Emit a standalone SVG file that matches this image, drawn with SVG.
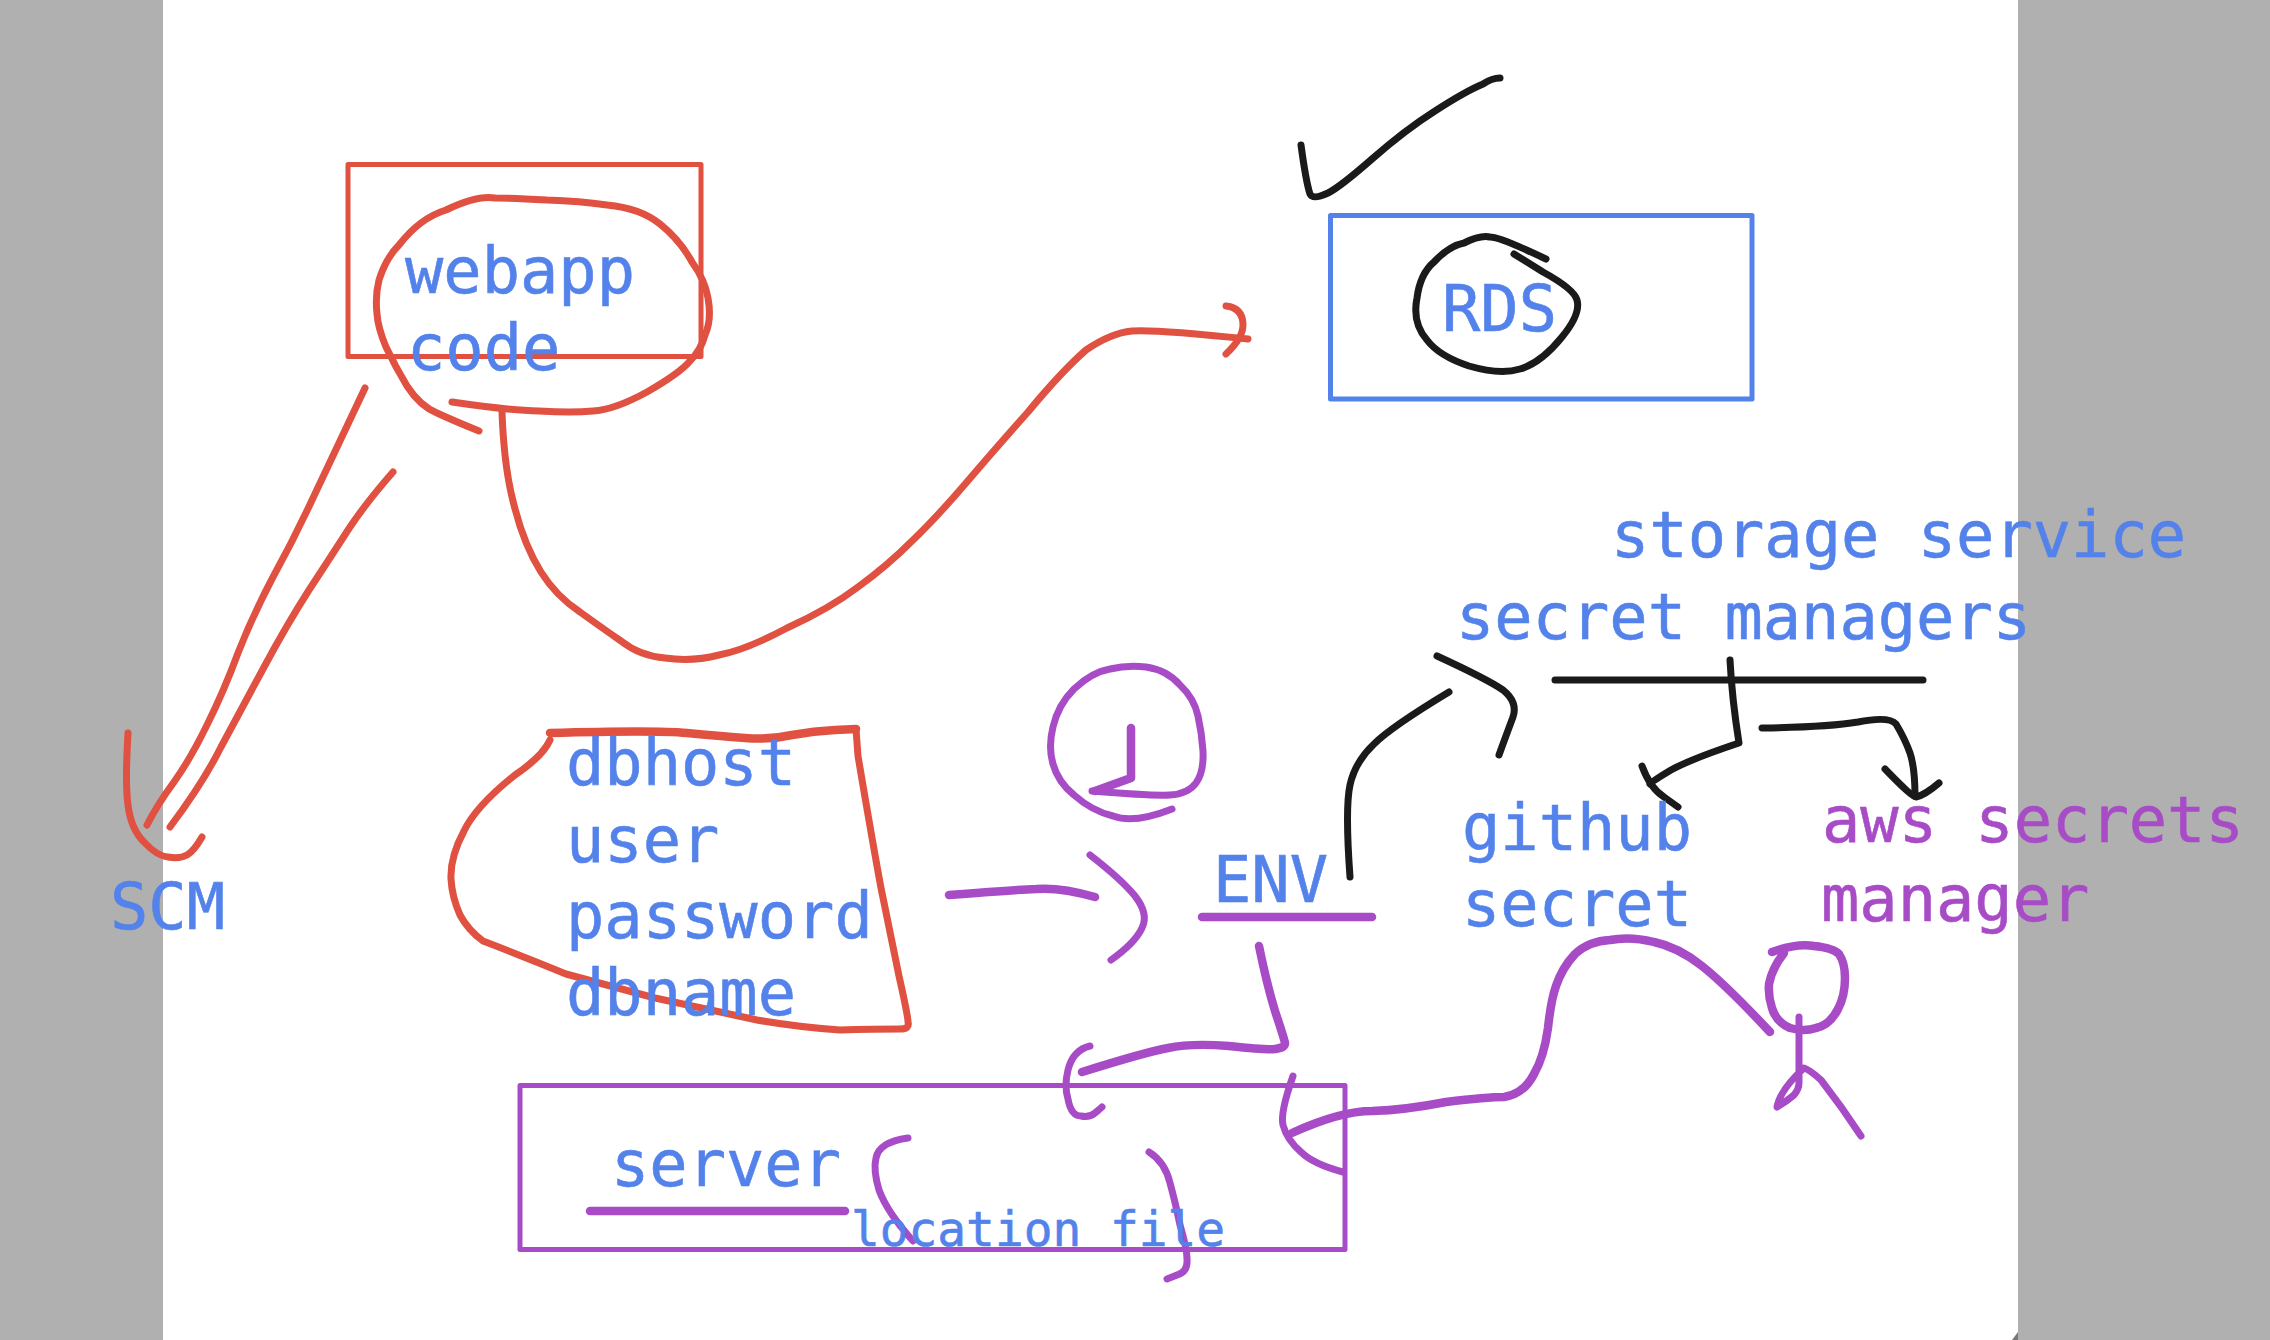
<svg xmlns="http://www.w3.org/2000/svg" width="2270" height="1340" viewBox="0 0 2270 1340">
<style>
.s{fill:none;stroke-linecap:round;stroke-linejoin:round;stroke-width:7}
.t{stroke-width:8.5}
.r{stroke:#e05141}.p{stroke:#a74cc6}.k{stroke:#1a1a1a}
.box{fill:none;stroke-width:5;stroke-linejoin:round}
text{font-family:"DejaVu Sans Mono","Liberation Mono",monospace;font-size:63.7px;fill:#5482eb;stroke:#5482eb;stroke-width:.6}
text.v{fill:#a74cc6;stroke:#a74cc6}
text.m{font-size:47.8px}
</style>
<rect width="2270" height="1340" fill="#fff"/>
<rect width="163" height="1340" fill="#b0b0b0"/>
<rect x="2018" width="252" height="1340" fill="#b0b0b0"/>
<polygon points="2018,1332 2018,1340 2012,1340" fill="#777"/>
<g id="connectors">
<path class="s r" d="M479 431Q452 420 437 413Q420 406 407 386Q395 366 386 347Q378 328 377 314Q375 296 379 280Q386 258 399 245Q420 218 446 210Q477 195 495 198Q514 198 547 200Q580 201 607 205Q640 208 660 224Q680 240 692 262Q705 280 708 298Q712 320 705 335Q701 350 690 361Q680 373 647 392Q614 410 593 411Q572 413 539 411Q506 410 452 402"/>
<path class="s r" d="M502 412Q504 468 514 505Q524 545 541 572Q556 596 580 612Q605 630 621 641Q640 656 665 658Q692 662 719 655Q746 650 787 628Q829 609 858 587Q887 566 912 541Q937 517 966 483Q995 449 1028 412Q1061 372 1086 350Q1111 333 1132 331Q1153 329 1248 339"/>
<path class="s r" d="M1226 306Q1243 308 1243 325Q1243 338 1226 354"/>
<path class="s r" d="M365 388Q332 458 313 498Q294 539 273 577Q253 615 238 653Q224 691 207 725Q191 758 174 782Q157 805 147 825"/>
<path class="s r" d="M393 472Q365 504 348 530Q332 555 309 590Q286 626 263 669Q240 712 221 747Q203 783 170 827"/>
<path class="s r" d="M128 733Q125 783 128 805Q131 830 145 843Q157 856 168 857Q180 859 187 855Q194 851 202 837"/>
<path class="s r t" d="M550 733Q655 730 687 733Q719 736 745 738Q770 740 792 735Q814 731 835 730L856 729"/>
<path class="s r" d="M856 729L858 756Q872 839 881 888Q891 936 899 976Q908 1016 908 1022Q910 1029 900 1029Q873 1029 840 1030Q798 1027 757 1020Q706 1009 655 998Q610 986 566 974Q525 957 483 941Q468 930 460 915Q452 897 451 879Q450 857 464 831Q476 806 515 775Q543 756 550 740"/>
<path class="s p" d="M1172 809Q1134 824 1113 816Q1092 811 1074 795Q1058 782 1053 764Q1048 747 1053 727Q1058 705 1074 689Q1092 672 1110 669Q1127 665 1146 667Q1167 670 1180 685Q1194 698 1198 716Q1202 734 1203 751Q1204 772 1196 783Q1188 794 1170 795Q1152 796 1092 791"/>
<path class="s p t" d="M1131 728L1131 778L1095 791"/>
<path class="s p t" d="M949 895Q1012 890 1036 889Q1060 887 1095 897"/>
<path class="s p" d="M1090 855Q1121 879 1135 896Q1149 914 1142 928Q1135 943 1111 960"/>
<line class="s p t" x1="1202" y1="917" x2="1372" y2="917"/>
<path class="s p t" d="M1259 946Q1267 985 1275 1011Q1284 1038 1285 1043Q1285 1048 1275 1049Q1267 1050 1229 1046Q1191 1043 1168 1048Q1146 1052 1082 1072"/>
<path class="s p" d="M1090 1046Q1073 1050 1068 1070Q1064 1086 1068 1099Q1071 1116 1081 1116Q1089 1118 1095 1113Q1101 1108 1102 1107"/>
<line class="s p t" x1="590" y1="1211" x2="845" y2="1211"/>
<path class="s p" d="M908 1138Q879 1142 876 1158Q873 1170 879 1190Q887 1212 913 1241"/>
<path class="s p" d="M1149 1152Q1165 1162 1170 1183Q1175 1201 1180 1225Q1187 1249 1187 1259Q1188 1272 1177 1275Q1167 1279 1167 1279"/>
<path class="s p t" d="M1292 1133Q1340 1111 1372 1111Q1405 1110 1446 1102Q1487 1097 1504 1097Q1524 1094 1534 1074Q1544 1057 1548 1028Q1551 1000 1556 986Q1562 968 1575 954Q1589 941 1610 940Q1630 936 1654 942Q1678 947 1702 966Q1726 985 1770 1032"/>
<path class="s p" d="M1293 1076Q1280 1113 1283 1125Q1287 1140 1301 1152Q1313 1164 1343 1172"/>
<path class="s p t" d="M1772 952Q1797 943 1814 946Q1833 948 1839 954Q1845 963 1845 978Q1845 996 1838 1009Q1830 1025 1816 1028Q1804 1032 1790 1028Q1776 1022 1772 1008Q1768 996 1769 984Q1772 968 1784 953"/>
<path class="s p" d="M1799 1017L1799 1083Q1799 1089 1794 1095Q1787 1101 1777 1107Q1780 1090 1804 1068Q1810 1070 1821 1080Q1842 1107 1861 1136"/>
<path class="s k" d="M1301 145Q1306 182 1310 194Q1313 200 1328 193Q1340 187 1372 159Q1405 130 1435 111Q1466 91 1483 84Q1492 78 1500 78"/>
<path class="s k" d="M1546 259Q1500 237 1490 237Q1480 235 1464 243Q1449 246 1434 262Q1420 274 1417 298Q1412 323 1427 340Q1439 356 1469 366Q1500 375 1520 369Q1541 363 1562 337Q1581 314 1577 300Q1574 289 1543 272Q1514 254 1514 254"/>
<path class="s k" d="M1350 877Q1345 808 1350 785Q1355 762 1374 744Q1391 727 1449 692"/>
<path class="s k" d="M1437 656Q1487 679 1503 690Q1518 702 1513 717Q1507 733 1499 755"/>
<line class="s k" x1="1555" y1="680" x2="1923" y2="680"/>
<path class="s k" d="M1730 660Q1732 699 1739 743Q1691 759 1671 770Q1651 782 1650 784"/>
<path class="s k" d="M1642 766Q1650 788 1664 797Q1678 807 1678 807"/>
<path class="s k" d="M1762 728Q1828 727 1858 722Q1889 716 1896 724Q1905 739 1910 753Q1915 768 1915 796"/>
<path class="s k" d="M1885 769Q1913 798 1916 797Q1925 795 1939 783"/>
</g>
<g id="node-webapp"><rect class="box" x="348" y="164.5" width="353" height="192" stroke="#e05141"/><text x="405" y="293">webapp</text><text x="407" y="370">code</text></g>
<g id="node-rds"><rect class="box" x="1330.5" y="215.5" width="421.5" height="183.5" stroke="#5482eb"/><text x="1442" y="331">RDS</text></g>
<g id="node-server"><rect class="box" x="520" y="1085.5" width="825" height="164" stroke="#a74cc6"/><text x="611" y="1186">server</text><text class="m" x="851" y="1246">location file</text></g>
<g id="node-scm"><text x="110" y="929">SCM</text></g>
<g id="node-db"><text x="566" y="785">dbhost</text><text x="566" y="862">user</text><text x="566" y="938">password</text><text x="566" y="1015">dbname</text></g>
<g id="node-env"><text x="1213" y="902">ENV</text></g>
<g id="node-storage"><text x="1611" y="557">storage service</text></g>
<g id="node-secrets"><text x="1456" y="639">secret managers</text></g>
<g id="node-github"><text x="1462" y="850">github</text><text x="1462" y="926">secret</text></g>
<g id="node-aws"><text class="v" x="1822" y="842">aws secrets</text><text class="v" x="1821" y="921">manager</text></g>
</svg>
